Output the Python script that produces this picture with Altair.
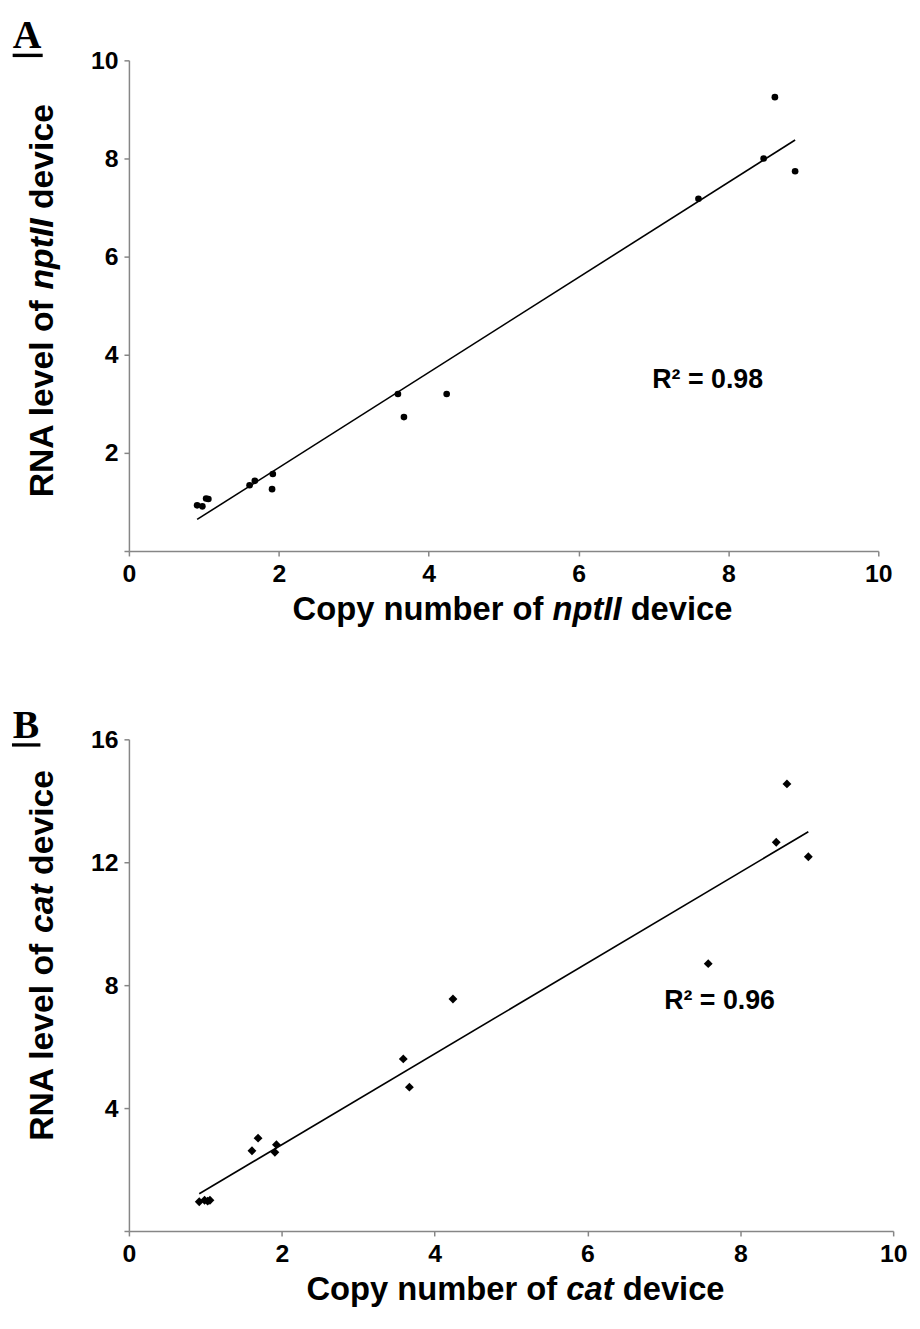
import altair as alt
import pandas as pd

# ---------------- data ----------------
a_copy = [0.91, 0.98, 1.03, 1.06, 1.61, 1.68, 1.92, 1.91, 3.59, 3.67, 4.24, 7.60, 8.47, 8.62, 8.89]
a_rna = [0.93, 0.91, 1.07, 1.06, 1.34, 1.43, 1.57, 1.26, 3.20, 2.73, 3.20, 7.18, 8.00, 9.25, 7.74]

b_copy = [0.92, 0.99, 1.03, 1.06, 1.61, 1.69, 1.93, 1.91, 3.59, 3.67, 4.24, 7.58, 8.47, 8.61, 8.89]
b_rna = [0.95, 1.00, 0.97, 1.00, 2.61, 3.02, 2.81, 2.56, 5.60, 4.68, 7.55, 8.70, 12.65, 14.55, 12.18]

x_ticks = [0, 2, 4, 6, 8, 10]
a_y_ticks = [0, 2, 4, 6, 8, 10]
b_y_ticks = [0, 4, 8, 12, 16]

a_r2 = "R\u00b2 = 0.98"
b_r2 = "R\u00b2 = 0.96"

dfA = pd.DataFrame({"copy": a_copy, "rna": a_rna})
dfB = pd.DataFrame({"copy": b_copy, "rna": b_rna})
one = pd.DataFrame({"k": [0]})

SANS = "Liberation Sans, Arial, sans-serif"
SERIF = "Liberation Serif, Times New Roman, serif"
AXIS_GRAY = "#868686"

# Arial / Liberation Sans Bold advance widths (per 1000 em)
W = {' ': 278, 'A': 722, 'C': 722, 'I': 278, 'N': 722, 'R': 722, 'a': 556, 'b': 611,
     'c': 556, 'd': 611, 'e': 556, 'f': 333, 'i': 278, 'l': 278, 'm': 889, 'n': 611,
     'o': 611, 'p': 611, 'r': 389, 't': 333, 'u': 611, 'v': 556, 'y': 556}


def tw(s, size):
    return sum(W[c] for c in s) * size / 1000.0


def txt(s, x, y, size, font=SANS, style="normal", angle=0, align="left"):
    kw = dict(text=s, fontSize=size, font=font, fontWeight="bold", fontStyle=style,
              align=align, baseline="alphabetic", color="black")
    if angle:
        kw["angle"] = angle
    return alt.Chart(one).mark_text(**kw).encode(x=alt.value(x), y=alt.value(y))


def bar(x1, x2, y1, y2):
    return alt.Chart(one).mark_rect(color="black").encode(
        x=alt.value(x1), x2=alt.value(x2), y=alt.value(y1), y2=alt.value(y2))


def htitle(pre, ital, post, cx, by, ts):
    total = tw(pre + " " + ital + " " + post, ts)
    x0 = cx - total / 2
    x1 = x0 + tw(pre + " ", ts)
    x2 = x1 + tw(ital + " ", ts)
    return [txt(pre, x0, by, ts), txt(ital, x1, by, ts, style="italic"), txt(post, x2, by, ts)]


def vtitle(pre, ital, post, bx, cy, ts):
    total = tw(pre + " " + ital + " " + post, ts)
    y0 = cy + total / 2
    y1 = y0 - tw(pre + " ", ts)
    y2 = y1 - tw(ital + " ", ts)
    return [txt(pre, bx, y0, ts, angle=270), txt(ital, bx, y1, ts, style="italic", angle=270),
            txt(post, bx, y2, ts, angle=270)]


def axis(values, pad, zero_label=True):
    kw = dict(values=values, title=None, grid=False, domainColor=AXIS_GRAY, tickColor=AXIS_GRAY,
              domainWidth=1.5, tickWidth=1.5, tickSize=5, labelFont=SANS, labelFontWeight="bold",
              labelFontSize=25, labelColor="black", labelPadding=pad, labelFlush=False,
              labelOverlap=False)
    if not zero_label:
        kw["labelExpr"] = "datum.value == 0 ? '' : datum.label"
    return alt.Axis(**kw)


def panel(df, ymax, yticks, shape, size, w, h, letter, lx, lby, ul, dev, ytc, xtc, xtb,
          r2, r2x, r2y):
    x = alt.X("copy:Q", scale=alt.Scale(domain=[0, 10], nice=False, zero=False),
              axis=axis(x_ticks, 6))
    y = alt.Y("rna:Q", scale=alt.Scale(domain=[0, ymax], nice=False, zero=False),
              axis=axis(yticks, 6, zero_label=False))
    pts = alt.Chart(df).mark_point(shape=shape, filled=True, size=size, color="black",
                                   opacity=1).encode(x=x, y=y)
    line = alt.Chart(df).transform_regression("copy", "rna").mark_line(
        color="black", strokeWidth=1.6).encode(x=x, y=y)
    layers = [line, pts,
              txt(letter, lx, lby, 40, font=SERIF),
              bar(*ul),
              txt(r2, r2x, r2y, 27)]
    layers += vtitle("RNA level of", dev, "device", -77, ytc, 34)
    layers += htitle("Copy number of", dev, "device", xtc, xtb, 33)
    return alt.layer(*layers).properties(width=w, height=h)


A = panel(dfA, 10, a_y_ticks, "circle", 45, 756, 495, "A", -117.3, -12.3,
          (-117.3, -87, -6.7, -3.3), "nptII", 242.5, 387, 565, a_r2, 528, 331)
B = panel(dfB, 16, b_y_ticks, "diamond", 80, 771, 496, "B", -117.3, -1.7,
          (-118, -89.3, 4, 7.3), "cat", 218, 390, 566, b_r2, 540, 272)

chart = alt.vconcat(A, B, spacing=190, bounds="flush").properties(
    autosize=alt.AutoSizeParams(type="none"),
    padding={"left": 122, "top": 47, "right": 790, "bottom": 1266},
).configure_view(stroke=None)

chart.save("out.html", embed_options={"renderer": "svg", "actions": False})
